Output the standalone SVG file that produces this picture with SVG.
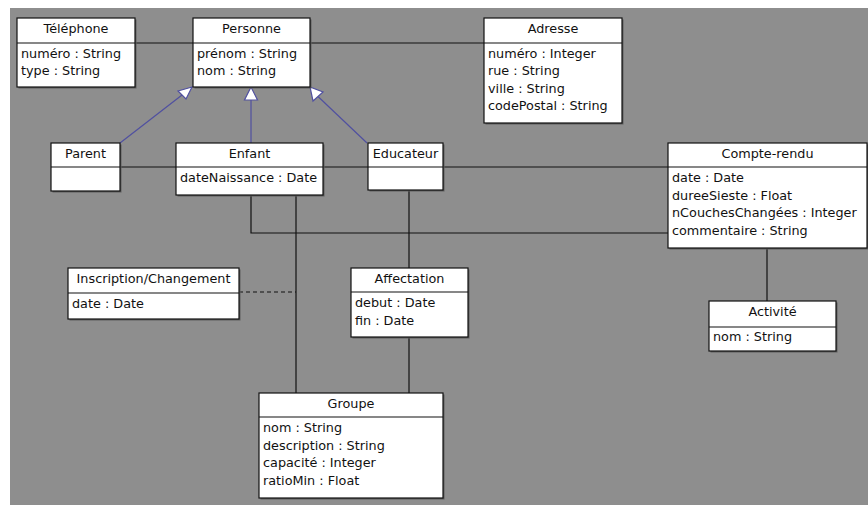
<svg xmlns="http://www.w3.org/2000/svg" width="868" height="506" viewBox="0 0 868 506">
<style>
.box{fill:#fff;stroke:#111;stroke-width:1.2}
.sh{fill:#5e5e5e}
.div{stroke:#111;stroke-width:1.2}
.t{font-family:"DejaVu Sans",sans-serif;font-size:12.8px;fill:#111}
.h{text-anchor:middle}
.c{fill:none;stroke:#111;stroke-width:1.2}
.g{fill:none;stroke:#5050a0;stroke-width:1.2}
.tri{fill:#fff;stroke:#5050a0;stroke-width:1.2}
</style>
<rect x="0" y="0" width="868" height="506" fill="#fff"/>
<rect x="10" y="8" width="858" height="497" fill="#8e8e8e"/>
<g id="connectors">
<line class="c" x1="135" y1="43" x2="484" y2="43"/>
<line class="c" x1="120" y1="167" x2="668" y2="167"/>
<polyline class="c" points="251,195 251,233 668,233"/>
<line class="c" x1="296" y1="195" x2="296" y2="393"/>
<line class="c" x1="239" y1="292" x2="296" y2="292" stroke-dasharray="4,3"/>
<line class="c" x1="409" y1="190" x2="409" y2="393"/>
<line class="c" x1="767" y1="248" x2="767" y2="301"/>
<line class="g" x1="120" y1="143" x2="182" y2="95"/>
<polygon class="tri" points="192,87 178,91 186,99"/>
<line class="g" x1="251" y1="100" x2="251" y2="143"/>
<polygon class="tri" points="251,87 244.5,100 257.5,100"/>
<line class="g" x1="367" y1="143" x2="318" y2="96.5"/>
<polygon class="tri" points="310,87 323,92 313,101"/>
</g>
<g id="telephone">
<rect class="sh" x="18.5" y="19.5" width="118" height="69"/>
<rect class="box" x="17" y="18" width="118" height="69"/>
<line class="div" x1="17" y1="43" x2="135" y2="43"/>
<text class="t h" x="76" y="32.5">Téléphone</text>
<text class="t" x="21" y="57.5">numéro : String</text>
<text class="t" x="21" y="75">type : String</text>
</g>
<g id="personne">
<rect class="sh" x="194.5" y="19.5" width="117" height="69"/>
<rect class="box" x="193" y="18" width="117" height="69"/>
<line class="div" x1="193" y1="43" x2="310" y2="43"/>
<text class="t h" x="251.5" y="32.5">Personne</text>
<text class="t" x="197" y="57.5">prénom : String</text>
<text class="t" x="197" y="75">nom : String</text>
</g>
<g id="adresse">
<rect class="sh" x="485.5" y="19.5" width="138" height="105"/>
<rect class="box" x="484" y="18" width="138" height="105"/>
<line class="div" x1="484" y1="43" x2="622" y2="43"/>
<text class="t h" x="553" y="32.5">Adresse</text>
<text class="t" x="488" y="57.5">numéro : Integer</text>
<text class="t" x="488" y="75">rue : String</text>
<text class="t" x="488" y="92.5">ville : String</text>
<text class="t" x="488" y="110">codePostal : String</text>
</g>
<g id="parent">
<rect class="sh" x="52.5" y="144.5" width="69" height="48"/>
<rect class="box" x="51" y="143" width="69" height="48"/>
<line class="div" x1="51" y1="167" x2="120" y2="167"/>
<text class="t h" x="85.5" y="157.5">Parent</text>
</g>
<g id="enfant">
<rect class="sh" x="177.5" y="144.5" width="147" height="52"/>
<rect class="box" x="176" y="143" width="147" height="52"/>
<line class="div" x1="176" y1="167" x2="323" y2="167"/>
<text class="t h" x="249.5" y="157.5">Enfant</text>
<text class="t" x="180" y="181.5">dateNaissance : Date</text>
</g>
<g id="educateur">
<rect class="sh" x="369.5" y="144.5" width="75" height="47"/>
<rect class="box" x="368" y="143" width="75" height="47"/>
<line class="div" x1="368" y1="167" x2="443" y2="167"/>
<text class="t h" x="405.5" y="157.5">Educateur</text>
</g>
<g id="compte-rendu">
<rect class="sh" x="669.5" y="144.5" width="199" height="105"/>
<rect class="box" x="668" y="143" width="199" height="105"/>
<line class="div" x1="668" y1="167" x2="867" y2="167"/>
<text class="t h" x="767.5" y="157.5">Compte-rendu</text>
<text class="t" x="672" y="182">date : Date</text>
<text class="t" x="672" y="199.5">dureeSieste : Float</text>
<text class="t" x="672" y="217">nCouchesChangées : Integer</text>
<text class="t" x="672" y="234.5">commentaire : String</text>
</g>
<g id="inscription">
<rect class="sh" x="69.5" y="269.5" width="171" height="51"/>
<rect class="box" x="68" y="268" width="171" height="51"/>
<line class="div" x1="68" y1="293" x2="239" y2="293"/>
<text class="t h" x="153.5" y="282.5">Inscription/Changement</text>
<text class="t" x="72" y="307.5">date : Date</text>
</g>
<g id="affectation">
<rect class="sh" x="352.5" y="269.5" width="117" height="69"/>
<rect class="box" x="351" y="268" width="117" height="69"/>
<line class="div" x1="351" y1="292" x2="468" y2="292"/>
<text class="t h" x="409.5" y="282.5">Affectation</text>
<text class="t" x="355" y="307">debut : Date</text>
<text class="t" x="355" y="324.5">fin : Date</text>
</g>
<g id="activite">
<rect class="sh" x="710.5" y="302.5" width="127" height="50"/>
<rect class="box" x="709" y="301" width="127" height="50"/>
<line class="div" x1="709" y1="327" x2="836" y2="327"/>
<text class="t h" x="772.5" y="315.5">Activité</text>
<text class="t" x="713" y="341">nom : String</text>
</g>
<g id="groupe">
<rect class="sh" x="260.5" y="394.5" width="184" height="105"/>
<rect class="box" x="259" y="393" width="184" height="105"/>
<line class="div" x1="259" y1="417" x2="443" y2="417"/>
<text class="t h" x="351" y="407.5">Groupe</text>
<text class="t" x="263" y="432">nom : String</text>
<text class="t" x="263" y="449.5">description : String</text>
<text class="t" x="263" y="467">capacité : Integer</text>
<text class="t" x="263" y="484.5">ratioMin : Float</text>
</g>
</svg>
